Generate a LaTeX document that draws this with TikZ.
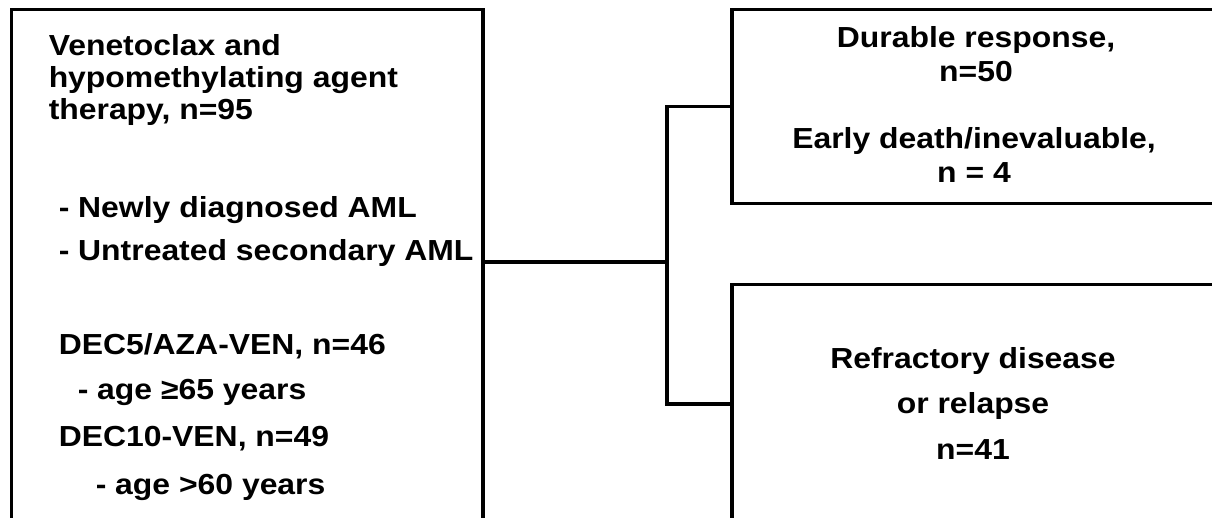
\documentclass[tikz,border=0pt]{standalone}
\usepackage{fontspec}
\setmainfont{Liberation Sans}[FakeStretch=1.1]
\begin{document}
\begin{tikzpicture}[x=1pt,y=-1pt,
  line width=3.5pt,
  box/.style={draw=black,line width=3.5pt,rectangle,inner sep=0pt,anchor=north west},
  txt/.style={inner sep=0pt,font=\fontsize{29}{34}\selectfont\bfseries},
  lt/.style={txt,anchor=base west},
  ct/.style={txt,anchor=base}]
\useasboundingbox (0,0) rectangle (1212,518);
\clip (0,0) rectangle (1212,518);
% boxes
\node[box,minimum width=471.5pt,minimum height=560pt] (left) at (9.5,8) {};
\node[box,minimum width=520pt,minimum height=194pt] (top) at (730,8) {};
\node[box,minimum width=520pt,minimum height=238pt] (bot) at (730,283) {};
% left texts
\node[lt] (l1) at (47,56) {Venetoclax and};
\node[lt] (l2) at (47,88) {hypomethylating agent};
\node[lt] (l3) at (47,120) {therapy, n=95};
\node[lt] (l4) at (57,218) {- Newly diagnosed AML};
\node[lt] (l5) at (57,261) {- Untreated secondary AML};
\node[lt] (l6) at (57,354) {DEC5/AZA-VEN, n=46};
\node[lt] (l7) at (76,399) {- age ≥65 years};
\node[lt] (l8) at (57,446) {DEC10-VEN, n=49};
\node[lt] (l9) at (94,494) {- age >60 years};
% right texts
\node[ct] (t1) at (976,48) {Durable response,};
\node[ct] (t2) at (976,82) {n=50};
\node[ct] (t3) at (974,149) {Early death/inevaluable,};
\node[ct] (t4) at (974,183) {n = 4};
\node[ct] (b1) at (973,368) {Refractory disease};
\node[ct] (b2) at (973,413) {or relapse};
\node[ct] (b3) at (973,459) {n=41};
% connectors
\coordinate (j) at (667,262);
\draw (left.east |- j) -- (j);
\draw (top.west) -| (j |- top.west) -- (j |- bot.west) -- (bot.west);
\end{tikzpicture}
\end{document}
